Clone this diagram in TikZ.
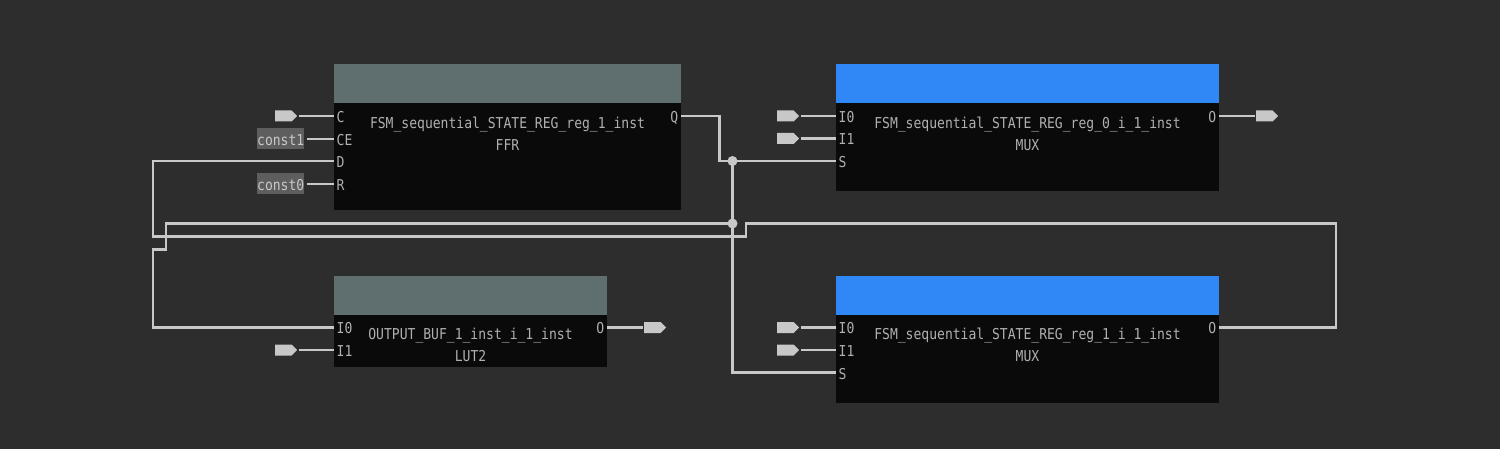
\documentclass[tikz,border=0pt]{standalone}
\usepackage{fontspec}
\usetikzlibrary{shapes.symbols}
\newfontfamily\schemfont[FakeStretch=0.87]{DejaVu Sans Mono}
\definecolor{canvasgray}{HTML}{2D2D2D}
\definecolor{bodyblack}{HTML}{0A0A0A}
\definecolor{headgray}{HTML}{5F6F6F}
\definecolor{headblue}{HTML}{2F88F5}
\definecolor{wiregray}{HTML}{C8C8C8}
\definecolor{textgray}{HTML}{B0B0B0}
\definecolor{constgray}{HTML}{5E5E5E}
\tikzset{
	label text/.style={font=\schemfont\fontsize{15}{15}\selectfont,text=textgray,text height=13pt,text depth=0pt},
	cellbody/.style={fill=bodyblack,anchor=north west,inner sep=0pt,minimum width=#1},
	cellhead/.style={anchor=north west,inner sep=0pt,minimum width=#1,minimum height=39pt},
	pinname/.style={label text,inner ysep=0pt,inner xsep=2.5pt},
	celltext/.style={label text,inner sep=0pt},
	constbox/.style={label text,text=wiregray,fill=constgray,anchor=east,inner xsep=0pt,inner ysep=0pt,minimum width=47pt,minimum height=21pt},
	portflag/.style={signal,signal to=east,signal pointer angle=90,fill=wiregray,inner sep=0pt,minimum width=22pt,minimum height=11pt,anchor=west},
	wire/.style={draw=wiregray,line width=2.3pt,line join=miter},
	junction/.style={circle,fill=wiregray,inner sep=0pt,minimum size=10pt},
}
\begin{document}
\begin{tikzpicture}[x=1pt,y=-1pt]
	\useasboundingbox (0,0) rectangle (1500,449);
	\fill [canvasgray] (0,0) rectangle (1500,449);

	\node (ffrbody) [cellbody=347pt,minimum height=146pt] at (334,64) {};
	\node (ffrhead) [cellhead=347pt,fill=headgray] at (334,64) {};
	\node (muxabody) [cellbody=383pt,minimum height=127pt] at (836,64) {};
	\node (muxahead) [cellhead=383pt,fill=headblue] at (836,64) {};
	\node (lutbody) [cellbody=273pt,minimum height=91pt] at (334,276) {};
	\node (luthead) [cellhead=273pt,fill=headgray] at (334,276) {};
	\node (muxbbody) [cellbody=383pt,minimum height=127pt] at (836,276) {};
	\node (muxbhead) [cellhead=383pt,fill=headblue] at (836,276) {};

	\node (ffrname) [celltext] at (507.5,122) {FSM\_sequential\_STATE\_REG\_reg\_1\_inst};
	\node (ffrtype) [celltext] at (507.5,144) {FFR};
	\node (muxaname) [celltext] at (1027.5,122) {FSM\_sequential\_STATE\_REG\_reg\_0\_i\_1\_inst};
	\node (muxatype) [celltext] at (1027.5,144) {MUX};
	\node (lutname) [celltext] at (470.5,333) {OUTPUT\_BUF\_1\_inst\_i\_1\_inst};
	\node (luttype) [celltext] at (470.5,355) {LUT2};
	\node (muxbname) [celltext] at (1027.5,333) {FSM\_sequential\_STATE\_REG\_reg\_1\_i\_1\_inst};
	\node (muxbtype) [celltext] at (1027.5,355) {MUX};

	\foreach \p/\y in {C/116,CE/139,D/161,R/184}
	\node (ffr\p) [pinname,anchor=west] at (334,\y) {\p};
	\foreach \p/\y in {I0/116,I1/138.5,S/161}
	\node (muxa\p) [pinname,anchor=west] at (836,\y) {\p};
	\foreach \p/\y in {I0/327.5,I1/350}
	\node (lut\p) [pinname,anchor=west] at (334,\y) {\p};
	\foreach \p/\y in {I0/327.5,I1/350,S/372.5}
	\node (muxb\p) [pinname,anchor=west] at (836,\y) {\p};
	\node (ffrQ) [pinname,anchor=east] at (681,116) {Q};
	\node (muxaO) [pinname,anchor=east] at (1219,116) {O};
	\node (lutO) [pinname,anchor=east] at (607,327.5) {O};
	\node (muxbO) [pinname,anchor=east] at (1219,327.5) {O};

	\node (const1) [constbox] at (304.5,139) {const1};
	\node (const0) [constbox] at (304.5,184) {const0};
	\draw [wire,shorten <=2pt] (const1) -- (ffrCE);
	\draw [wire,shorten <=2pt] (const0) -- (ffrR);

	\foreach \n/\x/\y in {ffrC/275/116,muxaI0/777/116,muxaI1/777/138.5,lutI1/275/350,muxbI0/777/327.5,muxbI1/777/350}{
		\node (in\n) [portflag] at (\x,\y) {};
		\draw [wire,shorten <=1.5pt] (in\n.east) -- (\n.west);
	}
	\foreach \n/\x/\y in {muxaO/1256/116,lutO/644/327.5}{
		\node (out\n) [portflag] at (\x,\y) {};
		\draw [wire,shorten >=1.5pt] (\n.east) -- (out\n.west);
	}

	\node (splitA) [junction] at (732.5,161) {};
	\node (splitB) [junction] at (732.5,223.5) {};
	\coordinate (qdrop) at (719.5,161);
	\coordinate (dleft) at (153,236.5);
	\coordinate (dstep) at (746,223.5);
	\coordinate (oright) at (1336,327.5);
	\coordinate (lutstep) at (166,249.5);
	\coordinate (lutleft) at (153,327.5);

	\draw [wire] (ffrQ.east) -| (qdrop) -- (muxaS.west);
	\draw [wire] (splitA.center) |- (muxbS.west);
	\draw [wire] (ffrD.west) -| (dleft) -| (dstep) -| (oright) -- (muxbO.east);
	\draw [wire] (splitB.center) -| (lutstep) -| (lutleft) -- (lutI0.west);
\end{tikzpicture}
\end{document}
